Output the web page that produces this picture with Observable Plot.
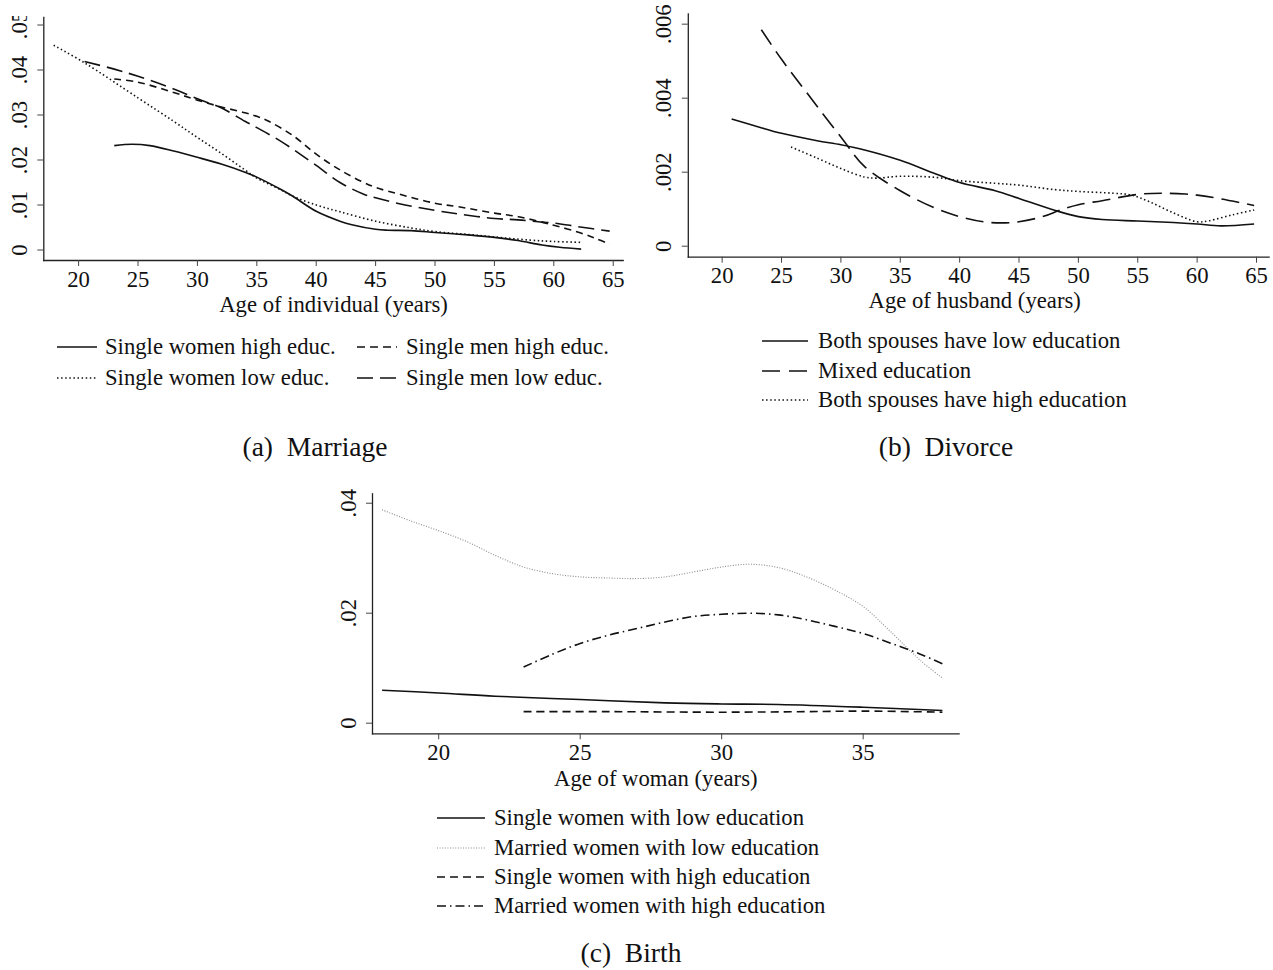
<!DOCTYPE html>
<html><head><meta charset="utf-8">
<script src="https://cdn.jsdelivr.net/npm/d3@7"></script>
<script src="https://cdn.jsdelivr.net/npm/@observablehq/plot@0.6"></script>
<style>
body{margin:0;background:#fff;}
#root{position:relative;width:1273px;height:970px;font-family:"Liberation Serif",serif;color:#111;overflow:hidden;}
.panel{position:absolute;}
.clip{position:absolute;overflow:hidden;}
.row{position:absolute;white-space:nowrap;height:24px;line-height:24px;font-size:22.7px;}
.row svg{position:absolute;top:9px;}
.row span{position:absolute;top:0;}
.cap{position:absolute;font-size:27.5px;white-space:nowrap;line-height:32px;transform:translateX(-50%);}
</style></head><body><div id="root"></div>
<script>
// ---------- Panel (a) Marriage ----------
const aXTicks = [20, 25, 30, 35, 40, 45, 50, 55, 60, 65];
const aYTicks = [0, 0.01, 0.02, 0.03, 0.04, 0.05];
const aXLabel = "Age of individual (years)";
const aNames = ["Single women high educ.", "Single men high educ.", "Single women low educ.", "Single men low educ."];
const aAgeSWH = [23, 24.5, 26, 28, 30, 32, 34, 35, 37, 38, 40, 42, 43, 45, 46, 48, 50, 53, 55, 57, 59, 60.5, 62.3];
const aValSWH = [.0232, .0235, .0232, .0220, .0206, .0191, .0173, .0162, .0135, .0120, .0086, .0064, .0056, .0046, .0044, .0043, .0039, .0033, .0028, .0021, .0011, .0006, .0002];
const aAgeSWL = [17.9, 20.5, 25, 28, 30, 32, 34, 35, 37, 38, 40, 42, 45, 48, 50, 53, 55, 58, 60, 62.3];
const aValSWL = [.0455, .0416, .0338, .0286, .0250, .0215, .0178, .0160, .0134, .0120, .0100, .0085, .0064, .0049, .0041, .0034, .0029, .0022, .0019, .0017];
const aAgeSMH = [23, 25, 28, 30, 32, 34, 35, 36, 38, 40, 42, 44, 45, 47, 50, 52, 55, 57, 59, 60, 62, 63.5, 64.7];
const aValSMH = [.0380, .0373, .0350, .0333, .0318, .0305, .0297, .0286, .0255, .0213, .0178, .0150, .0139, .0124, .0104, .0096, .0082, .0074, .0062, .0055, .0040, .0026, .0013];
const aAgeSML = [20.5, 23, 25, 28, 30, 32, 34, 35, 37, 40, 42, 44, 45, 47, 50, 52, 55, 57, 59, 60, 62, 64.7];
const aValSML = [.0419, .0402, .0386, .0358, .0336, .0316, .0286, .0272, .0242, .0188, .0150, .0124, .0116, .0103, .0088, .0080, .0070, .0067, .0062, .0060, .0052, .0042];

// ---------- Panel (b) Divorce ----------
const bXTicks = [20, 25, 30, 35, 40, 45, 50, 55, 60, 65];
const bYTicks = [0, 0.002, 0.004, 0.006];
const bXLabel = "Age of husband (years)";
const bNames = ["Both spouses have low education", "Mixed education", "Both spouses have high education"];
const bAgeLow = [20.8, 23, 25, 28, 30, 32, 35, 38, 40, 43, 45, 48, 50, 52, 55, 58, 60, 62, 64.8];
const bValLow = [.00344, .00323, .00305, .00285, .00274, .00260, .00232, .00195, .00172, .00150, .00129, .00097, .00080, .00072, .00068, .00064, .00060, .00055, .00060];
const bAgeMix = [23.3, 25, 27, 30, 32, 35, 38, 40, 42, 43.5, 45, 47, 48.5, 50, 52, 55, 57, 59, 60, 62, 64.8];
const bValMix = [.00585, .00505, .00420, .00295, .00215, .00150, .00102, .00080, .00066, .00063, .00066, .00080, .00098, .00112, .00123, .00140, .00143, .00141, .00138, .00128, .00110];
const bAgeHigh = [25.8, 28, 30, 32, 33, 35, 38, 40, 43, 45, 48, 50, 53, 54.5, 56, 58, 60, 61, 63, 64.8];
const bValHigh = [.00268, .00238, .00210, .00187, .00184, .00189, .00186, .00177, .00170, .00165, .00153, .00148, .00143, .00138, .00120, .00090, .00066, .00069, .00085, .00098];

// ---------- Panel (c) Birth ----------
const cXTicks = [20, 25, 30, 35];
const cYTicks = [0, 0.02, 0.04];
const cXLabel = "Age of woman (years)";
const cNames = ["Single women with low education", "Married women with low education", "Single women with high education", "Married women with high education"];
const cAgeSL = [18, 20, 22, 25, 28, 30, 32, 35, 37.8];
const cValSL = [.0060, .0055, .0049, .0043, .0037, .0035, .0034, .0029, .0023];
const cAgeML = [18, 19, 20, 21, 22, 23, 24, 25, 26, 27, 28, 29, 30, 31, 32, 33, 34, 35, 36, 37, 37.8];
const cValML = [.0388, .0368, .0350, .0330, .0305, .0284, .0272, .0266, .0264, .0263, .0266, .0275, .0284, .0289, .0283, .0266, .0242, .0212, .0165, .0115, .0082];
const cAgeSH = [23, 26, 30, 33, 35, 37.8];
const cValSH = [.0021, .0021, .0020, .0021, .0022, .0020];
const cAgeMH = [23, 24, 25, 26, 27, 28, 29, 30, 31, 32, 33, 34, 35, 36, 37, 37.8];
const cValMH = [.0102, .0125, .0145, .0160, .0172, .0184, .0194, .0198, .0200, .0197, .0188, .0176, .0163, .0145, .0126, .0108];

const captions = ["(a)\u2002Marriage", "(b)\u2002Divorce", "(c)\u2002Birth"];

// ---------- helpers ----------
const INK = "#111";
const FS = 22.7;
const toRows = (ages, vals) => ages.map((x, i) => ({x, y: vals[i]}));
const noLead = (digits) => (d) => d === 0 ? "0" : d3.format(`.${digits}f`)(d).replace(/^0/, "");

function panel({width, height, margins, xDomain, yDomain, xTicks, yTicks, yDigits, xLabel, labelDx, labelDy, series}) {
  return Plot.plot({
    width, height,
    marginLeft: margins[0], marginRight: margins[1], marginTop: margins[2], marginBottom: margins[3],
    x: {domain: xDomain},
    y: {domain: yDomain},
    style: {fontFamily: "Liberation Serif, serif", fontSize: FS + "px", color: INK, background: "transparent", overflow: "visible"},
    marks: [
      Plot.frame({anchor: "left", stroke: "#222", strokeWidth: 1.3}),
      Plot.frame({anchor: "bottom", stroke: "#222", strokeWidth: 1.3}),
      Plot.axisY({ticks: yTicks, tickFormat: noLead(yDigits), tickRotate: -90, tickSize: 6, tickPadding: 11, stroke: "#444", label: null, fontSize: FS}),
      Plot.axisX({ticks: xTicks, tickFormat: d3.format("d"), tickSize: 6, tickPadding: 4, stroke: "#444", label: null, fontSize: FS}),
      ...series.map(s => Plot.line(toRows(s.ages, s.vals), {
        x: "x", y: "y", curve: "catmull-rom",
        stroke: s.color || INK, strokeWidth: s.width || 1.6, strokeDasharray: s.dash || null, strokeLinecap: "butt"
      })),
      Plot.text([xLabel], {frameAnchor: "bottom", lineAnchor: "middle", dy: labelDy, dx: labelDx, text: d => d, fontSize: FS, fill: INK})
    ]
  });
}

const root = document.getElementById("root");
function place(node, left, top, clipTop = 0) {
  const wrap = document.createElement("div");
  wrap.className = "clip";
  wrap.style.left = left + "px"; wrap.style.top = (top + clipTop) + "px";
  wrap.style.width = node.getAttribute("width") + "px";
  wrap.style.height = (+node.getAttribute("height") - clipTop) + "px";
  node.classList.add("panel");
  node.style.left = "0px"; node.style.top = (-clipTop) + "px";
  wrap.appendChild(node);
  root.appendChild(wrap);
}

// Panel (a)
const styleA = [
  {dash: null}, {dash: "7,5"}, {dash: "1.5,2.6"}, {dash: "16,7"}
];
place(panel({
  width: 640, height: 320, margins: [43.3, 17.3, 17, 60],
  xDomain: [17.07, 65.84], yDomain: [-0.00233, 0.05167],
  xTicks: aXTicks, yTicks: aYTicks, yDigits: 2, xLabel: aXLabel, labelDx: 0, labelDy: 44.5,
  series: [
    {ages: aAgeSWH, vals: aValSWH, ...styleA[0]},
    {ages: aAgeSMH, vals: aValSMH, ...styleA[1]},
    {ages: aAgeSWL, vals: aValSWL, ...styleA[2]},
    {ages: aAgeSML, vals: aValSML, ...styleA[3]}
  ]
}), 0, 0, 16);

// Panel (b)
const styleB = [{dash: null}, {dash: "18,8"}, {dash: "1.5,2.6"}];
place(panel({
  width: 633, height: 320, margins: [47.8, 4.4, 13.3, 63.3],
  xDomain: [17.15, 66.06], yDomain: [-0.000297, 0.00628],
  xTicks: bXTicks, yTicks: bYTicks, yDigits: 3, xLabel: bXLabel, labelDx: -4, labelDy: 44,
  series: [
    {ages: bAgeLow, vals: bValLow, ...styleB[0]},
    {ages: bAgeMix, vals: bValMix, ...styleB[1]},
    {ages: bAgeHigh, vals: bValHigh, ...styleB[2]}
  ]
}), 640, 0);

// Panel (c)
const styleC = [
  {dash: null},
  {dash: "1,1.6", color: "#8a8a8a", width: 1.1},
  {dash: "8,5"},
  {dash: "9,4,1.5,4"}
];
place(panel({
  width: 660, height: 320, margins: [52, 21.4, 13.3, 66.7],
  xDomain: [17.66, 38.39], yDomain: [-0.00193, 0.04171],
  xTicks: cXTicks, yTicks: cYTicks, yDigits: 2, xLabel: cXLabel, labelDx: -10, labelDy: 44.5,
  series: [
    {ages: cAgeSL, vals: cValSL, ...styleC[0]},
    {ages: cAgeML, vals: cValML, ...styleC[1]},
    {ages: cAgeSH, vals: cValSH, ...styleC[2]},
    {ages: cAgeMH, vals: cValMH, ...styleC[3]}
  ]
}), 320, 480);

// ---------- legends ----------
function legendRow(name, st, swLeft, swWidth, textLeft, cy) {
  const row = document.createElement("div");
  row.className = "row";
  row.style.left = swLeft + "px";
  row.style.top = (cy - 12) + "px";
  const ns = "http://www.w3.org/2000/svg";
  const svg = document.createElementNS(ns, "svg");
  svg.setAttribute("width", swWidth); svg.setAttribute("height", 6);
  svg.style.left = "0px";
  const ln = document.createElementNS(ns, "line");
  ln.setAttribute("x1", 0); ln.setAttribute("x2", swWidth);
  ln.setAttribute("y1", 3); ln.setAttribute("y2", 3);
  ln.setAttribute("stroke", st.color || INK);
  ln.setAttribute("stroke-width", st.width || 1.6);
  if (st.dash) ln.setAttribute("stroke-dasharray", st.dash);
  svg.appendChild(ln);
  row.appendChild(svg);
  const sp = document.createElement("span");
  sp.textContent = name;
  sp.style.left = (textLeft - swLeft) + "px";
  row.appendChild(sp);
  root.appendChild(row);
}
// (a): two columns, two rows
legendRow(aNames[0], styleA[0], 57, 40, 105, 347);
legendRow(aNames[1], {dash: "8,5"}, 357, 40, 406, 347);
legendRow(aNames[2], styleA[2], 57, 40, 105, 378);
legendRow(aNames[3], styleA[3], 357, 40, 406, 378);
// (b)
[341, 371, 400].forEach((cy, i) => legendRow(bNames[i], i === 1 ? {dash: "18,9"} : styleB[i], 762, 46, 818, cy));
// (c)
[818, 848, 877, 906].forEach((cy, i) => legendRow(cNames[i], styleC[i], 437, 48, 494, cy));

// ---------- captions ----------
function caption(txt, center, cy) {
  const d = document.createElement("div");
  d.className = "cap"; d.textContent = txt;
  d.style.left = center + "px"; d.style.top = (cy - 16) + "px";
  root.appendChild(d);
}
caption(captions[0], 315, 447);
caption(captions[1], 946, 447);
caption(captions[2], 631, 953);
</script>
</body></html>
